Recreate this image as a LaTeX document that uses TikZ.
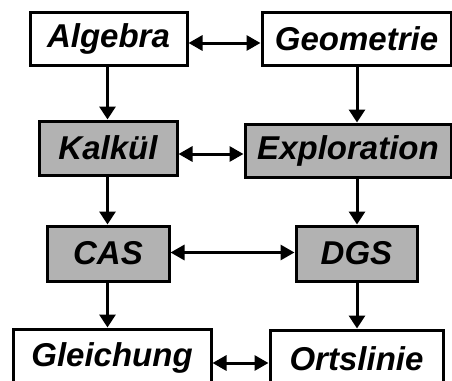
\documentclass[tikz,border=0pt]{standalone}
\usepackage{fontspec}
\setmainfont{Liberation Sans}
\usetikzlibrary{arrows.meta}
\definecolor{boxgray}{RGB}{178,178,178}
\begin{document}
\begin{tikzpicture}[x=1pt,y=-1pt,
  box/.style={draw=black,line width=3pt,fill=white,inner sep=0pt,
    font=\fontsize{33}{36}\selectfont\bfseries\itshape},
  graybox/.style={box,fill=boxgray},
  conn/.style={line width=3pt,-{Triangle[length=13pt,width=16pt]}},
  dconn/.style={line width=3pt,{Triangle[length=14pt,width=15pt]}-{Triangle[length=14pt,width=15pt]}}]
\fill[white] (0,0) rectangle (452,380);
\useasboundingbox (0,0) rectangle (452,380);
\clip (0,0) rectangle (452,380);
\node[box,minimum width=157pt,minimum height=53pt] (alg) at (108.5,38.5) {Algebra};
\node[box,minimum width=189pt,minimum height=53pt] (geo) at (356.5,38.5) {Geometrie};
\node[graybox,minimum width=138pt,minimum height=54pt] (kal) at (108,148) {Kalkül};
\node[graybox,minimum width=206pt,minimum height=53pt] (exp) at (348,150.5) {\raisebox{-3pt}{Exploration}};
\node[graybox,minimum width=122pt,minimum height=55pt] (cas) at (108,253.5) {CAS};
\node[graybox,minimum width=121pt,minimum height=55pt] (dgs) at (356.5,253.5) {DGS};
\node[box,minimum width=198pt,minimum height=58pt] (gle) at (112,358) {Gleichung};
\node[box,minimum width=173pt,minimum height=58pt] (ort) at (356.5,359) {Ortslinie};
\coordinate (c1) at (107.5,0);
\coordinate (c2) at (357,0);
\draw[conn] (alg.south -| c1) -- (kal.north -| c1);
\draw[conn] (geo.south -| c2) -- (exp.north -| c2);
\draw[conn] (kal.south -| c1) -- (cas.north -| c1);
\draw[conn] (exp.south -| c2) -- (dgs.north -| c2);
\draw[conn] (cas.south -| c1) -- (gle.north -| c1);
\draw[conn] (dgs.south -| c2) -- (ort.north -| c2);
\draw[dconn] ([yshift=-4.5pt]alg.east) -- ([yshift=-4.5pt]alg.east -| geo.west);
\draw[dconn] ([yshift=-6pt]kal.east) -- ([yshift=-6pt]kal.east -| exp.west);
\draw[dconn] ([yshift=1pt]cas.east) -- ([yshift=1pt]cas.east -| dgs.west);
\draw[dconn] ([yshift=-5pt]gle.east) -- ([yshift=-5pt]gle.east -| ort.west);
\end{tikzpicture}
\end{document}
